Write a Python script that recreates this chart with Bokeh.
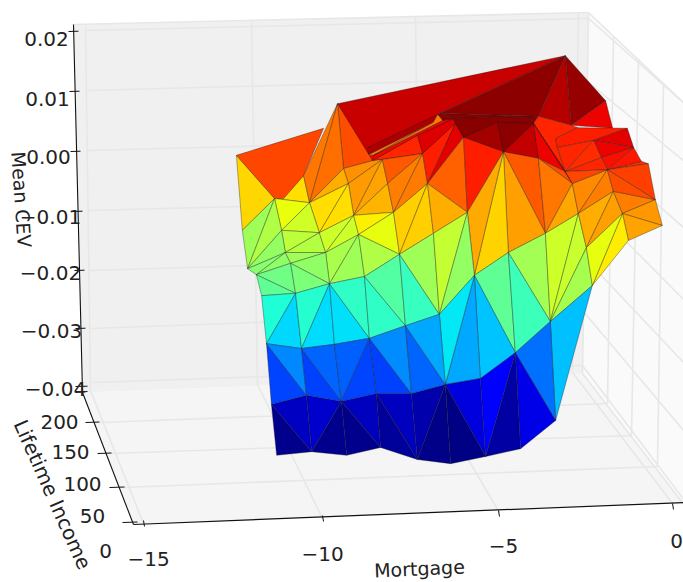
import math
import numpy as np
from bokeh.core.properties import value
from bokeh.embed import file_html
from bokeh.models import ColumnDataSource, LinearColorMapper, Range1d
from bokeh.plotting import figure
from bokeh.resources import INLINE
from bokeh.transform import transform

# ---- chart data: surface vertices in the view plane (mortgage units, CEV units) ----
mesh_mortgage = [-12.46,-9.57,-11.37,-9.97,-10.54,-10.37,-9.40,-8.57,-8.29,-9.26,
 -9.11,-8.14,-7.97,-7.14,-7.00,-10.09,-11.17,-12.29,-12.14,-11.89,
 -11.74,-11.60,-10.60,-10.77,-9.80,-8.66,-8.80,-7.80,-7.63,-6.66,
 -8.97,-9.91,-11.06,-10.91,-6.83,-5.86,-5.66,-4.83,-3.83,-3.63,
 -4.69,-5.97,-6.20,-5.00,-3.97,-4.14,-6.26,-3.06,-3.83,-2.89,
 -1.91,-1.71,-2.71,-3.34,-3.29,-3.06,-2.86,-2.26,-1.29,-1.11,
 -1.86,-0.69,-0.49,-1.69,-0.29,-1.43,-1.26,-2.69,-2.46,-2.29,
 -3.49,-4.49,-5.49,-6.49,-7.46,-8.46,-9.46,-10.46,-11.46,-3.34,
 -4.34,-5.34,-6.34,-7.29,-8.34,-9.31,-10.31,-11.31,-9.66,-8.74,
 -6.63,-8.71,-6.71,-6.83,-8.69,-7.29,-8.54,-6.57,-0.89,-2.03,-11.11]
mesh_cev = [-0.0008,0.0078,-0.0080,0.0037,-0.0042,-0.0087,-0.0030,-0.0017,-0.0015,-0.0055,
 -0.0108,-0.0055,-0.0103,-0.0005,-0.0055,-0.0137,-0.0133,-0.0133,-0.0197,-0.0207,
 -0.0242,-0.0322,-0.0330,-0.0238,-0.0222,-0.0313,-0.0210,-0.0173,-0.0292,-0.0273,
 -0.0140,-0.0170,-0.0170,-0.0188,-0.0138,-0.0103,-0.0208,-0.0002,-0.0013,-0.0138,
 -0.0170,0.0022,0.0045,0.0047,0.0045,0.0057,0.0053,0.0158,0.0057,0.0042,
 0.0083,0.0037,0.0038,0.0020,0.0005,-0.0035,-0.0055,0.0017,0.0037,0.0005,
 -0.0032,-0.0022,-0.0082,-0.0068,-0.0125,-0.0105,-0.0150,-0.0105,-0.0162,-0.0225,
 -0.0285,-0.0337,-0.0380,-0.0390,-0.0405,-0.0405,-0.0418,-0.0408,-0.0423,-0.0450,
 -0.0497,-0.0510,-0.0522,-0.0515,-0.0495,-0.0508,-0.0502,-0.0508,-0.0323,-0.0008,
 0.0062,0.0005,0.0060,0.0047,-0.0007,0.0025,-0.0008,0.0050,-0.0018,-0.0012,-0.0080]

# faces: vertex indices (back to front) and the value that colours each
faces = [
 [7,89,96,97,46,45,44,38,37,41,13],[90,48,44,45,46],[94,93,96],
 [96,97,46,95,7],[92,90,46,97],[38,55,56],[60,98,61],[0,2,17],
 [1,47,90,89],[90,47,48],[48,47,49],[47,50,49],[50,49,51],[48,49,52,53,54,55,44],
 [91,92,93,94],[96,93,92,97],[95,46,42,13],[7,95,13],[1,6,7],[2,4,5],[0,3,4,100,2],
 [4,1,5],[5,1,6],[6,7,8,9],[5,6,9],[8,9,10],[8,10,11],[10,11,12],[8,13,11],[11,13,12],
 [12,13,14],[13,42,14],[42,41,14],[41,35,14],[46,45,44,43,41,42],[41,43,37],[43,44,37],
 [37,44,38],[44,55,38],[44,56,55],[41,37,35],[37,38,39],[37,39,40],[37,40,36],[37,36,35],
 [38,56,39],[56,67,39],[5,9,15],[9,10,15],[2,5,16],[5,15,16],[17,2,18],[2,16,18],
 [16,15,32],[15,31,32],[16,32,18],[18,32,19],[19,32,33],[32,31,33],[15,10,31],[10,30,31],
 [10,12,30],[12,27,30],[12,14,27],[14,34,27],[14,35,34],[31,30,24],[30,26,24],[30,27,26],
 [33,31,24],[19,33,23],[33,24,23],[19,23,20],[20,23,21],[23,22,21],[23,24,22],[24,88,22],
 [24,25,88],[24,26,25],[26,28,25],[26,27,28],[27,29,28],[27,34,29],[34,35,29],[35,36,29],
 [36,40,71],[40,39,70],[40,70,71],[39,67,70],[67,68,70],[68,69,70],[56,60,67],[60,63,67],
 [67,63,68],[63,65,68],[63,62,65],[62,64,65],[65,64,66],[65,66,69],[65,69,68],[60,61,62],
 [60,62,63],[60,59,98],[53,52,58,57,54],[57,58,59],[57,59,99],[99,59,60],[54,57,55],
 [57,99,55],[99,60,55],[55,60,56],
 [36,71,72],[36,72,73],[29,36,73],[70,69,79],[71,70,79],[71,79,80],[71,80,81],[71,81,72],
 [73,72,81],[73,81,82],[73,82,83],[73,83,74],[75,74,83],[75,83,84],[76,75,84],[76,84,85],
 [76,85,86],[77,76,86],[77,86,78],[78,86,87],[21,77,78],[21,22,77],[22,76,77],[22,88,76],
 [88,25,76],[25,75,76],[25,74,75],[25,28,74],[28,73,74],[28,29,73]]
face_cev = [
 0.0100,0.0145,0.00425,
 0.0100,0.01425,0.00625,0.008,-0.001,
 0.0117,0.01435,0.0125,0.014,0.01025,0.0085,
 0.0129,0.00425,0.01085,0.0085,0.0064,-0.00135,0.00675,
 0.00425,0.0045,0.00275,0.00125,0.00225,0.00175,0.0008,0.00575,0.00375,
 0.004,0.0088,0.0106,0.0054,0.0145,0.01325,0.0144,
 0.0119,0.01015,0.01085,0.0088,0.00575,0.002,-0.00075,0.0015,
 0.00425,0.0016,-0.00135,-0.00135,-0.00325,-0.00475,-0.0078,-0.0067,
 -0.006,-0.0065,-0.0085,-0.00925,-0.00875,-0.0078,-0.0051,-0.0051,
 -0.0022,-0.0034,-0.0005,-0.0005,0.00125,-0.0071,-0.0078,-0.0068,
 -0.00875,-0.0107,-0.01,-0.01165,-0.01555,-0.01815,-0.01525,-0.018,
 -0.01775,-0.0145,-0.0145,-0.0125,-0.01425,-0.0078,-0.00555,-0.0085,
 -0.01165,-0.0075,-0.0138,-0.0051,-0.0055,-0.00735,0.00325,0.00375,
 0.00125,0.002,0.00375,0.0024,0.00175,-0.0021,-0.0034,0.00715,
 0.00625,0.00925,0.0088,0.0106,0.01025,0.00965,0.0085,
 0.008,0.0084,0.00675,
 -0.019,-0.0205,-0.0174,-0.01925,-0.02325,-0.0305,-0.03325,-0.0295,
 -0.03085,-0.03475,-0.0345,-0.0329,-0.03225,-0.03375,-0.03225,-0.03425,
 -0.03425,-0.0315,-0.0319,-0.03425,-0.02525,-0.0221,-0.0256,-0.02375,
 -0.024,-0.02525,-0.0256,-0.02175,-0.02375,-0.0205]

mortgage_ticks = ["\u221215", "\u221210", "\u22125", "0"]
income_ticks = ["0", "50", "100", "150", "200"]
cev_ticks = ["0.02", "0.01", "0.00", "\u22120.01", "\u22120.02", "\u22120.03", "\u22120.04"]
x_title, y_title, z_title = "Mortgage", "Lifetime Income", "Mean CEV"

# ---- view-plane scales ----
W, H = 683, 582
PX, PY, OX, OY = 35.0, 6000.0, 672.0, 150.0
def ux(px): return (px - OX) / PX
def uy(py): return (OY - py) / PY
p = figure(width=W, height=H, output_backend="svg", toolbar_location=None,
           x_axis_type=None, y_axis_type=None, outline_line_color=None,
           x_range=Range1d(ux(0), ux(W)), y_range=Range1d(uy(H), uy(0)),
           min_border=0, background_fill_color="white", border_fill_color="white")

def poly(pts, color):
    p.patch([ux(a) for a, _ in pts], [uy(b) for _, b in pts], fill_color=color, line_color=None)
def seg(a, b, color="#e7e7e7", w=1.6):
    p.line([ux(a[0]), ux(b[0])], [uy(a[1]), uy(b[1])], line_color=color, line_width=w)
def txt(s, x, y, size=20, angle=0.0):
    p.text([ux(x)], [uy(y)], text=[s], text_font=value("DejaVu Sans"), text_font_size=f"{size}px",
           text_color="#222222", text_align="center", text_baseline="middle", angle=math.radians(angle))

# panes
poly([(73,24),(588,12),(582,373),(82,392)], "#f0f0f0")
poly([(82,392),(582,373),(684,502),(133,524)], "#f5f5f5")
poly([(588,12),(684,103),(684,502),(582,373)], "#fafafa")

# grid: back wall verticals, floor, side wall
for top, low, front in [((85,25),(90,390),(143,523)), ((251,20),(257,384),(322,518)),
                        ((415,16),(420,378),(499,512)), ((578,13),(572,372),(672,503))]:
    seg(top, low); seg(low, front)
for left, back, side in [((85,30),(588,18),(684,103)), ((86,90),(582,77),(684,161)),
                         ((87,150),(582,137),(684,228)), ((88,210),(582,197),(684,300)),
                         ((89,270),(582,255),(684,363)), ((90,328),(582,310),(684,431)),
                         ((92,382),(582,365),(684,500))]:
    seg(left, back); seg(back, side)
for left, right, top in [((100,422),(607,403),(613,37)), ((110,453),(631,435),(638,58)),
                         ((123,487),(657,466),(663,83))]:
    seg(left, right); seg(right, top)
seg((588,12),(582,373)); seg((582,373),(684,505)); seg((588,12),(684,103)); seg((73,24),(588,12))

# axis lines and ticks
K = "#111111"
seg((73,24),(82,392),K,1.1); seg((82,392),(133,524),K,1.1); seg((133,524),(684,502),K,1.2)
for y, a, b in [(31,68,78),(91,69,79),(151,70,80),(211,72,82),(270,74,84),(328,75,85),(386,75,87)]:
    seg((a,y),(b,y-0.3),K,1)
seg((75,392),(87,391),K,1)
for y, a, b in [(422,85,99),(453,97,111),(487,109,124),(522,122,137)]:
    seg((a,y),(b,y-0.5),K,1)
for x, y in [(143,520),(322,515),(498,510),(672,503)]:
    seg((x,y),(x+1,y+6),K,1)

# surface
source = ColumnDataSource(dict(
    xs=[[mesh_mortgage[i] for i in f] for f in faces],
    ys=[[mesh_cev[i] for i in f] for f in faces],
    cev=face_cev))
r = np.interp(np.linspace(0, 1, 256), [0, .35, .66, .89, 1], [0, 0, 1, 1, .5])
g = np.interp(np.linspace(0, 1, 256), [0, .125, .375, .64, .91, 1], [0, 0, 1, 1, 0, 0])
b = np.interp(np.linspace(0, 1, 256), [0, .11, .34, .65, 1], [.5, 1, 1, 0, 0])
jet = ["#%02x%02x%02x" % (int(255*i), int(255*j), int(255*k)) for i, j, k in zip(r, g, b)]
mapper = LinearColorMapper(palette=jet, low=-0.035, high=0.015)
p.patches("xs", "ys", source=source, fill_color=transform("cev", mapper),
          line_color="#1a1a1a", line_alpha=0.45, line_width=0.8)

# tick labels and titles
for s, (x, y) in zip(cev_ticks, [(46,38),(47,98),(48,156),(50,216),(50,272),(51,330),(55,388)]):
    txt(s, x, y)
for s, (x, y) in zip(income_ticks, [(105,550),(92,515),(82,483),(70,451),(59,421)]):
    txt(s, x, y)
for s, (x, y) in zip(mortgage_ticks, [(148,558),(322,553),(503,545),(676,540)]):
    txt(s, x, y)
txt(x_title, 419, 568, 19, 2.5)
txt(y_title, 52, 494, 20, -66)
txt(z_title, 21, 199, 19, -86)

open("out.html", "w").write(file_html(p, INLINE))
